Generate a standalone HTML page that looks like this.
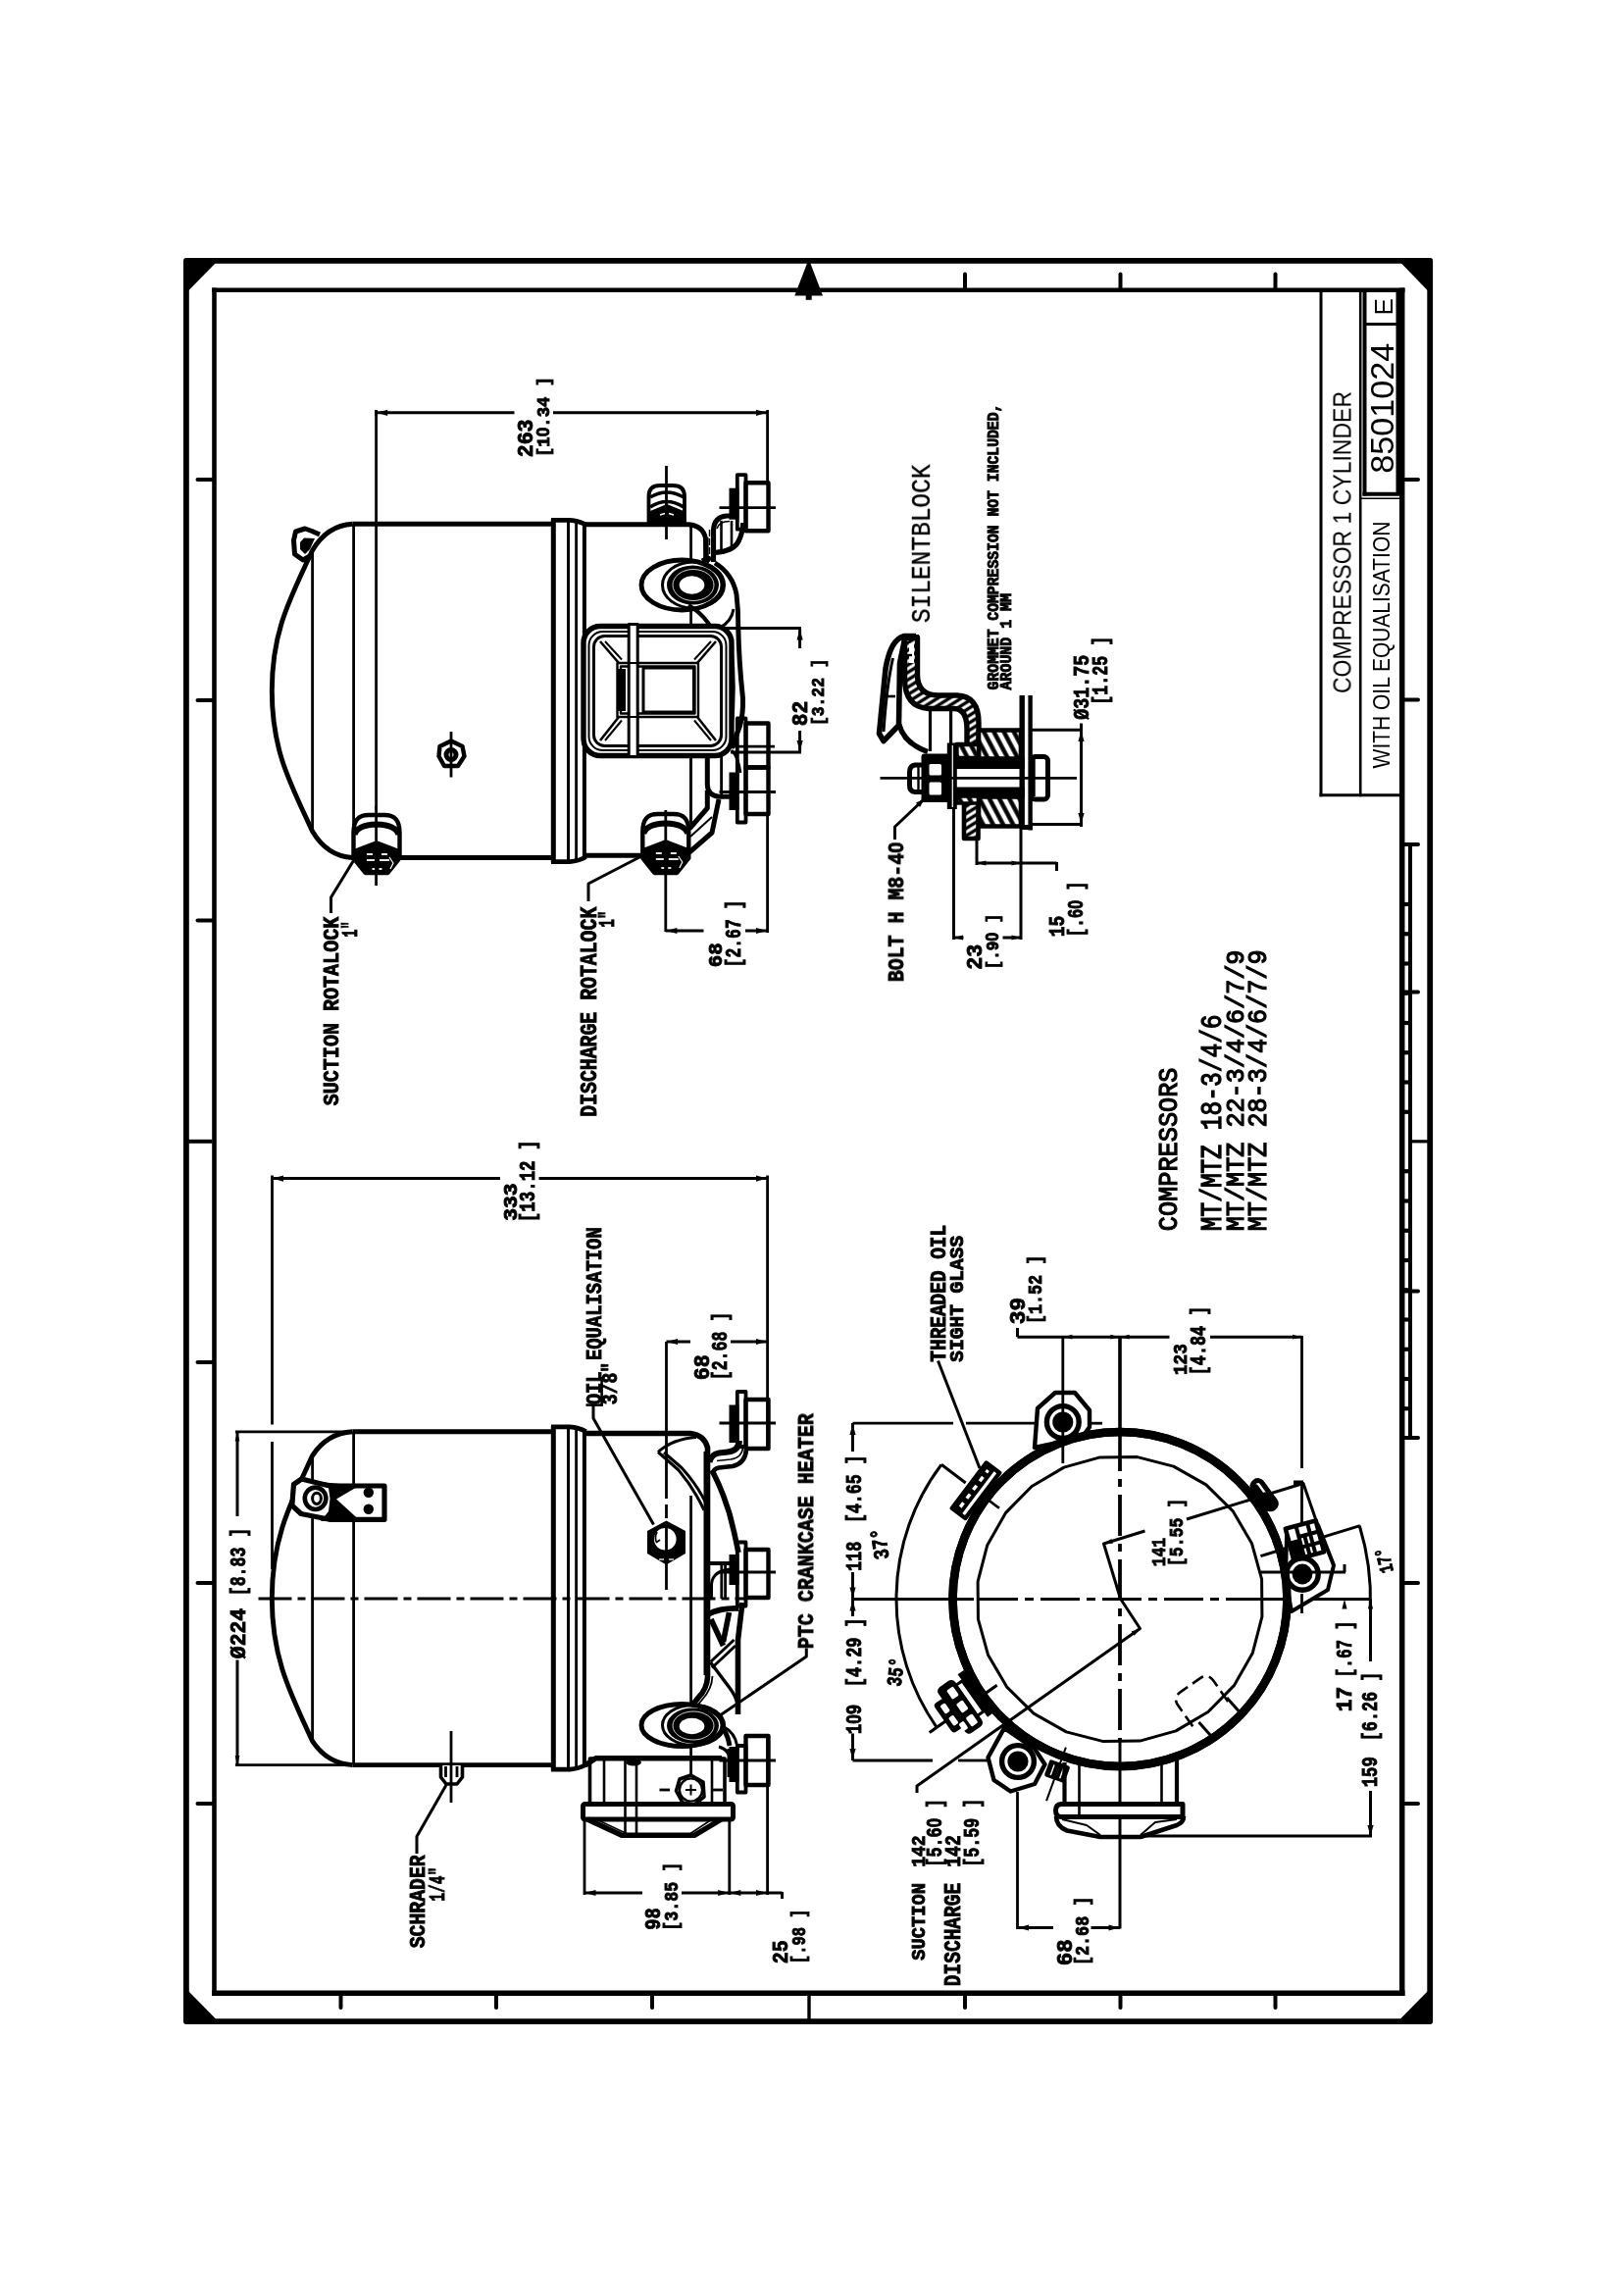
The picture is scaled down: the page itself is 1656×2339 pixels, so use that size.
<!DOCTYPE html>
<html lang="en"><head><meta charset="utf-8"><title>8501024 E - Compressor 1 cylinder with oil equalisation</title>
<style>
html,body{margin:0;padding:0;background:#fff}
body{width:1656px;height:2339px;overflow:hidden}
svg{display:block;position:absolute;left:0;top:0}
#texts{opacity:0.999}
svg text{stroke:#000;stroke-width:0.9px;stroke-linejoin:miter;fill:#000;font-family:"Liberation Mono","DejaVu Sans Mono",monospace;font-weight:bold;white-space:pre}
svg text .z{font-family:"Liberation Sans",Arial,sans-serif}
svg text.l{font-weight:normal;stroke-width:0.35px}
svg text.m{font-weight:normal;stroke-width:1.25px}
svg text.s{stroke:none;font-family:"Liberation Sans",Arial,sans-serif;font-weight:normal}
svg .f{fill:#000;stroke:none}
svg .w{fill:#fff}
</style></head><body>
<svg width="1656" height="2339" viewBox="0 0 1656 2339" fill="none" stroke="#000" stroke-linejoin="round" stroke-linecap="butt">
<g id="frame">
<rect x="189.90" y="265.90" width="1268.30" height="1795.20" stroke-width="5.8" />
<line x1="218.50" y1="293.50" x2="218.50" y2="2035.00" stroke-width="4.6" />
<line x1="216.20" y1="295.80" x2="1432.50" y2="295.80" stroke-width="4.6" />
<line x1="1429.70" y1="293.50" x2="1429.70" y2="2035.00" stroke-width="5.5" />
<line x1="216.20" y1="2032.20" x2="1432.50" y2="2032.20" stroke-width="5.6" />
<polygon points="192.00,268.00 220.00,268.00 192.00,296.50" fill="#000" stroke="none" />
<polygon points="1428.50,268.00 1456.00,268.00 1456.00,296.50" fill="#000" stroke="none" />
<polygon points="192.00,2030.00 192.00,2059.00 220.50,2059.00" fill="#000" stroke="none" />
<polygon points="1456.00,2030.00 1456.00,2059.00 1427.50,2059.00" fill="#000" stroke="none" />
<line x1="201.50" y1="489.00" x2="216.50" y2="489.00" stroke-width="4" stroke-linecap="round"/>
<line x1="201.50" y1="714.00" x2="216.50" y2="714.00" stroke-width="4" stroke-linecap="round"/>
<line x1="201.50" y1="938.50" x2="216.50" y2="938.50" stroke-width="4" stroke-linecap="round"/>
<line x1="201.50" y1="1389.00" x2="216.50" y2="1389.00" stroke-width="4" stroke-linecap="round"/>
<line x1="201.50" y1="1614.00" x2="216.50" y2="1614.00" stroke-width="4" stroke-linecap="round"/>
<line x1="201.50" y1="1839.00" x2="216.50" y2="1839.00" stroke-width="4" stroke-linecap="round"/>
<line x1="192.00" y1="1163.80" x2="216.50" y2="1163.80" stroke-width="4" />
<line x1="1432.00" y1="489.00" x2="1446.00" y2="489.00" stroke-width="4" stroke-linecap="round"/>
<line x1="1432.00" y1="713.50" x2="1446.00" y2="713.50" stroke-width="4" stroke-linecap="round"/>
<line x1="1432.00" y1="1614.00" x2="1446.00" y2="1614.00" stroke-width="4" stroke-linecap="round"/>
<line x1="1432.00" y1="1839.00" x2="1446.00" y2="1839.00" stroke-width="4" stroke-linecap="round"/>
<line x1="984.00" y1="279.50" x2="984.00" y2="294.00" stroke-width="4" stroke-linecap="round"/>
<line x1="1142.50" y1="279.50" x2="1142.50" y2="294.00" stroke-width="4" stroke-linecap="round"/>
<line x1="1300.50" y1="279.50" x2="1300.50" y2="294.00" stroke-width="4" stroke-linecap="round"/>
<line x1="347.50" y1="2034.00" x2="347.50" y2="2047.00" stroke-width="4" stroke-linecap="round"/>
<line x1="506.00" y1="2034.00" x2="506.00" y2="2047.00" stroke-width="4" stroke-linecap="round"/>
<line x1="665.00" y1="2034.00" x2="665.00" y2="2047.00" stroke-width="4" stroke-linecap="round"/>
<line x1="984.00" y1="2034.00" x2="984.00" y2="2047.00" stroke-width="4" stroke-linecap="round"/>
<line x1="1142.50" y1="2034.00" x2="1142.50" y2="2047.00" stroke-width="4" stroke-linecap="round"/>
<line x1="1300.50" y1="2034.00" x2="1300.50" y2="2047.00" stroke-width="4" stroke-linecap="round"/>
<line x1="825.00" y1="2034.00" x2="825.00" y2="2059.00" stroke-width="3.4" />
<polygon points="824.70,264.00 810.30,301.50 839.00,301.50" fill="#000" stroke="none" />
<line x1="824.70" y1="300.00" x2="824.70" y2="305.80" stroke-width="6" />
<line x1="1438.00" y1="861.00" x2="1438.00" y2="1466.00" stroke-width="4" />
<line x1="1432.00" y1="861.00" x2="1446.00" y2="861.00" stroke-width="4" stroke-linecap="round"/>
<line x1="1432.00" y1="1011.50" x2="1446.00" y2="1011.50" stroke-width="4" stroke-linecap="round"/>
<line x1="1432.00" y1="1316.50" x2="1446.00" y2="1316.50" stroke-width="4" stroke-linecap="round"/>
<line x1="1432.00" y1="1466.00" x2="1446.00" y2="1466.00" stroke-width="4" stroke-linecap="round"/>
<line x1="1438.00" y1="1163.80" x2="1456.00" y2="1163.80" stroke-width="3.2" />
<line x1="1431.00" y1="922.00" x2="1438.00" y2="922.00" stroke-width="4.2" />
<line x1="1431.00" y1="952.25" x2="1438.00" y2="952.25" stroke-width="4.2" />
<line x1="1431.00" y1="982.50" x2="1438.00" y2="982.50" stroke-width="4.2" />
<line x1="1431.00" y1="1012.75" x2="1438.00" y2="1012.75" stroke-width="4.2" />
<line x1="1431.00" y1="1043.00" x2="1438.00" y2="1043.00" stroke-width="4.2" />
<line x1="1431.00" y1="1073.25" x2="1438.00" y2="1073.25" stroke-width="4.2" />
<line x1="1431.00" y1="1103.50" x2="1438.00" y2="1103.50" stroke-width="4.2" />
<line x1="1431.00" y1="1133.75" x2="1438.00" y2="1133.75" stroke-width="4.2" />
<line x1="1431.00" y1="1194.25" x2="1438.00" y2="1194.25" stroke-width="4.2" />
<line x1="1431.00" y1="1224.50" x2="1438.00" y2="1224.50" stroke-width="4.2" />
<line x1="1431.00" y1="1254.75" x2="1438.00" y2="1254.75" stroke-width="4.2" />
<line x1="1431.00" y1="1285.00" x2="1438.00" y2="1285.00" stroke-width="4.2" />
<line x1="1431.00" y1="1315.25" x2="1438.00" y2="1315.25" stroke-width="4.2" />
<line x1="1431.00" y1="1345.50" x2="1438.00" y2="1345.50" stroke-width="4.2" />
<line x1="1431.00" y1="1375.75" x2="1438.00" y2="1375.75" stroke-width="4.2" />
<line x1="1431.00" y1="1406.00" x2="1438.00" y2="1406.00" stroke-width="4.2" />
<line x1="1431.00" y1="1436.25" x2="1438.00" y2="1436.25" stroke-width="4.2" />
<line x1="1347.00" y1="297.00" x2="1347.00" y2="812.20" stroke-width="3" />
<line x1="1387.20" y1="297.00" x2="1387.20" y2="812.20" stroke-width="2.6" />
<line x1="1345.50" y1="810.80" x2="1428.00" y2="810.80" stroke-width="3" />
<line x1="1391.50" y1="297.00" x2="1391.50" y2="505.50" stroke-width="4" />
<line x1="1389.50" y1="503.80" x2="1428.00" y2="503.80" stroke-width="4" />
<line x1="1387.00" y1="508.30" x2="1428.00" y2="508.30" stroke-width="1.6" />
<line x1="1391.00" y1="330.50" x2="1428.00" y2="330.50" stroke-width="3" />
<line x1="1425.40" y1="297.00" x2="1425.40" y2="505.00" stroke-width="3.8" />
</g>
<g id="viewA">
<path d="M359.5,534.2 Q333.5,535.7 318.5,561.2 C296.5,609.2 277.3,642.35 277.3,704.35 C277.3,766.35 296.5,799.5 318.5,847.5 Q333.5,873.0 359.5,874.5" stroke-width="4.9" />
<line x1="359.50" y1="534.20" x2="562.50" y2="534.20" stroke-width="4.9" />
<line x1="408.00" y1="874.50" x2="562.50" y2="874.50" stroke-width="4.9" />
<line x1="318.60" y1="561.20" x2="318.60" y2="847.50" stroke-width="2.8" />
<line x1="360.60" y1="534.20" x2="360.60" y2="874.50" stroke-width="2.8" />
<line x1="564.30" y1="529.50" x2="564.30" y2="879.50" stroke-width="5" />
<path d="M562,530.4 L581,530.4 Q590,531.1 597.6,535.1" stroke-width="4.6" />
<path d="M562,878.6 L581,878.6 Q590,877.9 597.6,873.7" stroke-width="4.6" />
<line x1="579.50" y1="530.50" x2="579.50" y2="878.50" stroke-width="3" />
<line x1="587.60" y1="531.50" x2="587.60" y2="877.50" stroke-width="2.8" />
<line x1="595.90" y1="534.00" x2="595.90" y2="875.00" stroke-width="4" />
<path d="M597,534.7 L702,534.7 Q717,536 719.5,549 L720,573" stroke-width="4.9" />
<line x1="597.00" y1="872.20" x2="655.00" y2="872.20" stroke-width="4.9" />
<line x1="704.60" y1="535.00" x2="704.60" y2="639.00" stroke-width="2.8" />
<line x1="704.60" y1="770.00" x2="704.60" y2="842.00" stroke-width="2.8" />
<path d="M326,545 L318,541.5 L311,539 L301.5,542 L299.5,551 L300.5,565 L309,571 L316,567" stroke-width="5" />
<path class="f" d="M306,553 L310,548.5 L321,549 L316,560 L311,565 L306,560 Z"/>
<polygon class="w" points="460,755.5 471.5,761 473.5,771 467,781 453,781 447.5,771 448.5,761" stroke-width="4.4"/>
<circle cx="460.00" cy="769.50" r="5.00" stroke-width="5" />
<line x1="460.00" y1="746.00" x2="460.00" y2="792.50" stroke-width="2.8" />
<line x1="383.60" y1="418.00" x2="383.60" y2="826.00" stroke-width="2.8" />
<path class="w" d="M360.5,875 L360.5,849 C360.5,833 368.5,831 376,831 L392,831 C399.5,831 407.5,833 407.5,849 L407.5,875 L395.5,890 L372.5,890 Z" stroke-width="4.4"/>
<path d="M361.5,851 Q364.5,841 384,840.5 Q403.5,841 406.5,851" stroke-width="6" />
<path class="f" d="M360.5,866 L384,857 L407.5,866 L407.5,875 L395.5,890 L372.5,890 L360.5,875 Z"/>
<path d="M362.5,854 L362.5,861 L384,852.5 L405.5,861 L405.5,854" stroke-width="1.4" stroke="#fff" style="display:none"/>
<line x1="374.00" y1="871.00" x2="380.00" y2="871.00" stroke-width="1.8" stroke="#fff"/>
<line x1="389.00" y1="871.00" x2="395.00" y2="871.00" stroke-width="1.8" stroke="#fff"/>
<line x1="374.00" y1="877.00" x2="382.00" y2="877.00" stroke-width="1.8" stroke="#fff"/>
<line x1="387.00" y1="877.00" x2="397.00" y2="877.00" stroke-width="1.8" stroke="#fff"/>
<line x1="379.50" y1="886.00" x2="382.50" y2="886.00" stroke-width="1.8" stroke="#fff"/>
<line x1="386.50" y1="886.00" x2="389.50" y2="886.00" stroke-width="1.8" stroke="#fff"/>
<path d="M397,874 L401,880 L398,886" stroke-width="1.2" stroke="#fff"/>
<line x1="383.60" y1="822.00" x2="383.60" y2="903.00" stroke-width="2.8" />
<path class="w" d="M655.3,875 L655.3,848 C655.3,832 663.3,830 670.8,830 L686.8,830 C694.3,830 702.3,832 702.3,848 L702.3,875 L690.3,890 L667.3,890 Z" stroke-width="4.4"/>
<path d="M656.3,850 Q659.3,840 678.8,839.5 Q698.3,840 701.3,850" stroke-width="6" />
<path class="f" d="M655.3,865 L678.8,856 L702.3,865 L702.3,875 L690.3,890 L667.3,890 L655.3,875 Z"/>
<path d="M657.3,853 L657.3,860 L678.8,851.5 L700.3,860 L700.3,853" stroke-width="1.4" stroke="#fff" style="display:none"/>
<line x1="668.80" y1="870.00" x2="674.80" y2="870.00" stroke-width="1.8" stroke="#fff"/>
<line x1="683.80" y1="870.00" x2="689.80" y2="870.00" stroke-width="1.8" stroke="#fff"/>
<line x1="668.80" y1="876.00" x2="676.80" y2="876.00" stroke-width="1.8" stroke="#fff"/>
<line x1="681.80" y1="876.00" x2="691.80" y2="876.00" stroke-width="1.8" stroke="#fff"/>
<line x1="674.30" y1="885.00" x2="677.30" y2="885.00" stroke-width="1.8" stroke="#fff"/>
<line x1="681.30" y1="885.00" x2="684.30" y2="885.00" stroke-width="1.8" stroke="#fff"/>
<path d="M691.8,873 L695.8,879 L692.8,885" stroke-width="1.2" stroke="#fff"/>
<line x1="678.80" y1="826.00" x2="678.80" y2="950.00" stroke-width="2.8" />
<path class="w" d="M661.5,533 L661.5,506 Q661.5,495 673,495 L686,495 Q698,495 698,506 L698,533 Z" stroke-width="3.8"/>
<path d="M663,507 Q680,497 697,507" stroke-width="3.4" />
<path d="M663,517 Q680,506 697,517" stroke-width="3.4" />
<path class="f" d="M663,521 L680,514 L697,521 L697,532 L663,532 Z"/>
<line x1="673.00" y1="525.00" x2="678.00" y2="523.50" stroke-width="1.4" stroke="#fff"/>
<line x1="682.00" y1="523.50" x2="687.00" y2="525.00" stroke-width="1.4" stroke="#fff"/>
<line x1="679.50" y1="475.00" x2="679.50" y2="550.00" stroke-width="2.8" />
<rect x="760.50" y="492.20" width="23.00" height="49.00" stroke-width="4.4" />
<rect x="751.80" y="484.20" width="8.70" height="55.50" stroke-width="3.8" />
<rect class="f" x="743.5" y="497.70000000000005" width="10" height="32"/>
<line x1="733.50" y1="517.70" x2="791.00" y2="517.70" stroke-width="2.8" />
<path d="M727.5,573 L727.5,541 Q728,527 741,526 L746,526" stroke-width="5.2" />
<path d="M720,573 L720,548" stroke-width="5.2" />
<path d="M729,563.5 Q748,562 753,552 Q757.5,543 757.8,533" stroke-width="5.2" />
<path d="M731,539 Q733,531.5 744,531.5" stroke-width="1.6" />
<line x1="735.50" y1="531.00" x2="735.50" y2="562.00" stroke-width="2.6" />
<line x1="746.00" y1="531.00" x2="746.00" y2="559.00" stroke-width="2.6" />
<line x1="723.50" y1="540.00" x2="723.50" y2="572.00" stroke-width="1.4" stroke-dasharray="7 2"/>
<ellipse cx="695.50" cy="596.50" rx="41.50" ry="25.50" stroke-width="4.9" class="w"/>
<ellipse cx="707.00" cy="596.50" rx="31.50" ry="23.50" stroke-width="3" />
<ellipse cx="706.50" cy="596.50" rx="26.50" ry="20.00" stroke-width="0" class="f"/>
<ellipse cx="705.50" cy="596.50" rx="12.80" ry="9.20" stroke-width="0" style="fill:#fff;stroke:none"/>
<ellipse cx="707.00" cy="596.50" rx="21.00" ry="16.00" stroke-width="0.8" stroke="#fff"/>
<path d="M716,572 Q727,566 720,573" stroke-width="4.9" />
<path d="M729,574 Q747,585 751,606 Q753,622 752.8,640" stroke-width="4.9" />
<path d="M748,621 Q746,634 734,640" stroke-width="3.0" />
<path d="M702,617 L708,621 Q718,628 726,641" stroke-width="4" />
<rect class="w" x="595" y="638.5" width="151" height="132" rx="17" ry="17" stroke-width="5.4"/>
<rect x="600.5" y="644" width="140" height="121" rx="14" ry="14" stroke-width="2"/>
<rect x="605.5" y="648.5" width="130" height="112" rx="11" ry="11" stroke-width="3"/>
<rect x="629.50" y="676.00" width="82.50" height="55.00" stroke-width="2.4" />
<rect x="633.00" y="679.50" width="75.50" height="48.00" stroke-width="2.4" />
<rect x="656.00" y="681.00" width="51.50" height="45.00" stroke-width="3" />
<line x1="612.00" y1="654.00" x2="631.00" y2="676.00" stroke-width="2.6" />
<line x1="617.00" y1="654.00" x2="634.00" y2="672.50" stroke-width="2" />
<line x1="730.00" y1="654.00" x2="711.00" y2="676.00" stroke-width="2.6" />
<line x1="725.00" y1="654.00" x2="708.00" y2="672.50" stroke-width="2" />
<line x1="612.00" y1="755.00" x2="631.00" y2="731.00" stroke-width="2.6" />
<line x1="617.00" y1="755.00" x2="634.00" y2="734.50" stroke-width="2" />
<line x1="730.00" y1="755.00" x2="711.00" y2="731.00" stroke-width="2.6" />
<line x1="725.00" y1="755.00" x2="708.00" y2="734.50" stroke-width="2" />
<rect class="f" x="629" y="682" width="9" height="43"/>
<rect class="w" x="641.2" y="636.5" width="9" height="135" stroke-width="3"/>
<line x1="641.00" y1="676.00" x2="650.00" y2="676.00" stroke-width="2" />
<line x1="641.00" y1="731.00" x2="650.00" y2="731.00" stroke-width="2" />
<path d="M752.8,640 Q753.5,675 757.5,712 Q758,728 754.5,740 Q750,752 746,763" stroke-width="5" />
<path d="M746,660 Q750.5,700 746,745" stroke-width="3.0" />
<line x1="735.00" y1="640.60" x2="817.00" y2="640.60" stroke-width="3.0" />
<line x1="745.00" y1="767.00" x2="817.00" y2="767.00" stroke-width="3.0" />
<line x1="815.60" y1="640.60" x2="815.60" y2="661.00" stroke-width="3.0" />
<line x1="815.60" y1="745.00" x2="815.60" y2="767.00" stroke-width="3.0" />
<polygon points="815.60,641.50 818.70,652.50 812.50,652.50" fill="#000" stroke="none" />
<polygon points="815.60,766.00 812.50,755.00 818.70,755.00" fill="#000" stroke="none" />
<rect x="760.50" y="782.50" width="23.00" height="47.50" stroke-width="4.4" />
<rect x="751.80" y="732.50" width="8.70" height="106.00" stroke-width="3.8" />
<rect class="f" x="743.5" y="787.5" width="10" height="38.5"/>
<line x1="733.50" y1="807.50" x2="791.00" y2="807.50" stroke-width="2.8" />
<rect x="760.50" y="737.50" width="23.00" height="45.00" stroke-width="4.4" />
<line x1="745.00" y1="761.20" x2="790.00" y2="761.20" stroke-width="2.8" />
<line x1="704.60" y1="770.00" x2="704.60" y2="838.00" stroke-width="2.8" />
<path d="M721.3,770 L721.3,800 Q721.5,811 733,812.3 L744,812.3" stroke-width="5" />
<line x1="735.60" y1="770.00" x2="735.60" y2="812.00" stroke-width="2.8" />
<path d="M746,765 Q753,772 755,788" stroke-width="2.8" />
<path d="M721.3,806 L721.3,824 L703,845" stroke-width="5" />
<path d="M733,815 L726,849 L703,869" stroke-width="5" />
<line x1="726.00" y1="833.00" x2="704.00" y2="853.00" stroke-width="2" />
<path d="M362.00,875.00 L337.50,915.00 L337.50,931.00" stroke-width="3.0" />
<path d="M655.00,872.50 L600.00,901.00 L600.00,919.00" stroke-width="3.0" />
<line x1="383.60" y1="418.00" x2="383.60" y2="424.00" stroke-width="2.8" />
<line x1="782.60" y1="418.00" x2="782.60" y2="491.50" stroke-width="2.8" />
<line x1="383.60" y1="420.80" x2="524.50" y2="420.80" stroke-width="3.0" />
<line x1="564.00" y1="420.80" x2="782.60" y2="420.80" stroke-width="3.0" />
<polygon points="384.20,420.80 395.20,417.70 395.20,423.90" fill="#000" stroke="none" />
<polygon points="782.00,420.80 771.00,423.90 771.00,417.70" fill="#000" stroke="none" />
<line x1="782.60" y1="831.00" x2="782.60" y2="951.00" stroke-width="2.8" />
<line x1="678.80" y1="949.00" x2="717.50" y2="949.00" stroke-width="3.0" />
<line x1="760.00" y1="949.00" x2="782.60" y2="949.00" stroke-width="3.0" />
<polygon points="679.40,949.00 690.40,945.90 690.40,952.10" fill="#000" stroke="none" />
<polygon points="782.00,949.00 771.00,952.10 771.00,945.90" fill="#000" stroke="none" />
</g>
<g id="viewB">
<path d="M359.5,1459.8 Q333.5,1461.3 318.5,1484.3 C296.5,1532.3 277.3,1567.6999999999998 277.3,1629.6999999999998 C277.3,1691.6999999999998 296.5,1727.1 318.5,1775.1 Q333.5,1798.1 359.5,1799.6" stroke-width="4.9" />
<line x1="359.50" y1="1459.80" x2="562.50" y2="1459.80" stroke-width="4.9" />
<line x1="359.50" y1="1799.60" x2="562.50" y2="1799.60" stroke-width="4.9" />
<line x1="318.60" y1="1484.30" x2="318.60" y2="1775.10" stroke-width="2.8" />
<line x1="360.60" y1="1459.80" x2="360.60" y2="1799.60" stroke-width="2.8" />
<line x1="564.30" y1="1454.00" x2="564.30" y2="1805.00" stroke-width="5" />
<path d="M562,1454.9 L581,1454.9 Q590,1455.6 597.6,1459.6" stroke-width="4.6" />
<path d="M562,1804.1 L581,1804.1 Q590,1803.4 597.6,1799.2" stroke-width="4.6" />
<line x1="579.50" y1="1455.00" x2="579.50" y2="1804.00" stroke-width="3" />
<line x1="587.60" y1="1456.00" x2="587.60" y2="1803.00" stroke-width="2.8" />
<line x1="595.90" y1="1458.50" x2="595.90" y2="1800.50" stroke-width="4" />
<line x1="263.50" y1="1630.00" x2="760.00" y2="1630.00" stroke-width="3.0" stroke-dasharray="34 6 8 6"/>
<path d="M597,1461.5 L704,1461.5 Q718,1463 721.5,1476 L721.5,1710 Q721,1722 712,1731 L706.5,1738" stroke-width="5.6" />
<line x1="718.30" y1="1480.00" x2="718.30" y2="1708.00" stroke-width="1.6" />
<line x1="704.60" y1="1525.00" x2="704.60" y2="1738.00" stroke-width="2.8" />
<line x1="704.60" y1="1776.00" x2="704.60" y2="1811.00" stroke-width="2.8" />
<path d="M671,1480.5 Q686,1467 710,1465.5" stroke-width="3.0" />
<path d="M671,1480.5 L692,1499 Q708,1518 718,1540" stroke-width="3.0" />
<path d="M677,1481 L695,1496.5 Q711,1514 720,1533" stroke-width="3.0" />
<path class="w" d="M392,1515 L336,1515 L307.5,1508 L299.5,1513.5 L297.8,1535 L307,1543.5 L336,1549.3 L392,1549.3 Z" stroke-width="5.2"/>
<path class="f" d="M327,1511 L366,1515 L343,1528.5 L366,1549.5 L327,1551 L335,1541 L336.5,1528 L335,1517 Z"/>
<ellipse cx="321.60" cy="1527.80" rx="10.80" ry="11.20" stroke-width="4.6" class="w"/>
<ellipse cx="323.00" cy="1527.80" rx="4.40" ry="5.60" stroke-width="3" />
<circle cx="375.80" cy="1521.80" r="5.20" stroke-width="0" class="f"/>
<circle cx="375.80" cy="1538.80" r="5.20" stroke-width="0" class="f"/>
<path class="w" d="M449.5,1800 L449.5,1812 L455,1819 L466,1819 L471.5,1812 L471.5,1800" stroke-width="3.6"/>
<line x1="454.50" y1="1801.00" x2="454.50" y2="1812.00" stroke-width="2.8" />
<line x1="466.00" y1="1801.00" x2="466.00" y2="1812.00" stroke-width="2.8" />
<line x1="460.00" y1="1765.00" x2="460.00" y2="1838.00" stroke-width="2.8" />
<path d="M455.00,1820.00 L425.00,1872.50 L425.00,1890.00" stroke-width="3.0" />
<line x1="679.50" y1="1368.00" x2="679.50" y2="1528.00" stroke-width="2.8" />
<line x1="679.50" y1="1534.00" x2="679.50" y2="1548.00" stroke-width="2.8" />
<polygon class="f" points="679.4,1550.5 699,1561 699,1584 679.4,1595.5 660,1584 660,1561"/>
<circle cx="678.30" cy="1569.30" r="11.30" stroke-width="0" fill="#fff" stroke="none"/>
<path d="M670,1562 Q667,1567 669.5,1572.5 L673,1570" stroke-width="1.8" />
<line x1="672.00" y1="1590.00" x2="677.00" y2="1590.00" stroke-width="1.3" stroke="#fff"/>
<line x1="682.00" y1="1590.00" x2="687.00" y2="1590.00" stroke-width="1.3" stroke="#fff"/>
<line x1="679.50" y1="1552.00" x2="679.50" y2="1621.00" stroke-width="2.8" />
<path d="M605.00,1432.00 L605.00,1446.00 L666.50,1554.50" stroke-width="3.0" />
<line x1="613.60" y1="1404.00" x2="613.60" y2="1433.50" stroke-width="2.6" />
<line x1="597.50" y1="1432.60" x2="614.80" y2="1432.60" stroke-width="2.6" />
<rect x="760.50" y="1427.00" width="23.00" height="50.00" stroke-width="4.4" />
<rect x="751.80" y="1419.00" width="8.70" height="56.00" stroke-width="3.8" />
<rect class="f" x="743.5" y="1432.5" width="10" height="38.5"/>
<line x1="733.50" y1="1451.00" x2="791.00" y2="1451.00" stroke-width="2.8" />
<path d="M754,1469 Q753.5,1479 742,1480.5 L733,1481.5 Q725,1483 723.5,1491" stroke-width="6" />
<path d="M761,1478 Q760,1492 747,1495 L733,1496.5 Q727.5,1497.5 726.5,1503" stroke-width="4.6" />
<path d="M757.5,1476 Q756.5,1486.5 745,1488 L731,1489.5" stroke-width="1.6" />
<path d="M726,1499 Q742,1530 748.5,1562 L753,1583" stroke-width="5.6" />
<rect x="760.50" y="1580.00" width="23.00" height="49.00" stroke-width="4.4" />
<rect x="751.80" y="1572.50" width="8.70" height="65.00" stroke-width="3.8" />
<rect class="f" x="743.5" y="1585" width="10" height="31"/>
<line x1="733.50" y1="1603.00" x2="791.00" y2="1603.00" stroke-width="2.8" />
<line x1="722.00" y1="1594.00" x2="746.00" y2="1594.00" stroke-width="4" />
<path d="M746,1600 Q727,1601 725.5,1615 L725.5,1630" stroke-width="3.0" />
<line x1="735.80" y1="1594.00" x2="735.80" y2="1630.00" stroke-width="2.8" />
<line x1="739.60" y1="1594.00" x2="739.60" y2="1630.00" stroke-width="2.8" />
<path d="M722,1646 Q734,1639.5 753,1640" stroke-width="5.8" />
<path d="M757,1634 L752.5,1672 L752.5,1748" stroke-width="5.6" />
<line x1="743.50" y1="1644.00" x2="737.50" y2="1674.00" stroke-width="5.6" />
<line x1="725.00" y1="1651.00" x2="737.50" y2="1678.00" stroke-width="5.6" />
<line x1="748.50" y1="1672.00" x2="724.50" y2="1694.50" stroke-width="3" />
<line x1="750.00" y1="1678.00" x2="726.00" y2="1700.50" stroke-width="3" />
<path d="M724.5,1695 L744,1721 Q750,1729 752,1737" stroke-width="3.4" />
<path d="M726.5,1709 Q726,1722 716,1733 L711,1739" stroke-width="1.8" />
<rect x="760.50" y="1770.00" width="23.00" height="50.00" stroke-width="4.4" />
<rect x="751.80" y="1780.00" width="8.70" height="47.50" stroke-width="3.8" />
<rect class="f" x="743.5" y="1781" width="10" height="36"/>
<line x1="733.50" y1="1795.00" x2="791.00" y2="1795.00" stroke-width="2.8" />
<path d="M744,1780 Q741,1762 730,1757 M744,1783 L744,1812" stroke-width="4.9" />
<path d="M733,1781 Q744,1784 745,1796" stroke-width="3.0" />
<path d="M822.30,1680.50 L822.30,1689.00 L735.00,1748.50" stroke-width="3.0" />
<ellipse cx="695.50" cy="1759.00" rx="41.50" ry="21.50" stroke-width="4.9" class="w"/>
<ellipse cx="707.00" cy="1759.00" rx="31.50" ry="20.50" stroke-width="3" />
<ellipse cx="706.50" cy="1759.50" rx="26.50" ry="18.00" stroke-width="0" class="f"/>
<ellipse cx="705.50" cy="1760.00" rx="12.80" ry="8.20" stroke-width="0" style="fill:#fff;stroke:none"/>
<ellipse cx="707.00" cy="1759.50" rx="21.00" ry="14.50" stroke-width="0.8" stroke="#fff"/>
<path d="M737,1760 Q752,1768 752,1785" stroke-width="3.0" />
<path d="M596.5,1800 L607.5,1792.8 L736,1792.8" stroke-width="5.5" />
<rect x="601.5" y="1793" width="137.5" height="46" stroke-width="3.6"/>
<rect class="w" x="594.5" y="1839.5" width="153" height="15.5" rx="2" stroke-width="5"/>
<path d="M599,1855 L634,1871.3 L708,1871.3 L735.5,1855" stroke-width="5.5" />
<line x1="616.00" y1="1794.00" x2="616.00" y2="1839.00" stroke-width="2.6" />
<line x1="637.50" y1="1794.00" x2="637.50" y2="1839.00" stroke-width="2.6" />
<line x1="649.00" y1="1794.00" x2="649.00" y2="1839.00" stroke-width="2.6" />
<line x1="726.00" y1="1794.00" x2="726.00" y2="1839.00" stroke-width="2.6" />
<line x1="637.50" y1="1840.00" x2="637.50" y2="1871.00" stroke-width="2.6" />
<line x1="649.00" y1="1840.00" x2="649.00" y2="1871.00" stroke-width="2.6" />
<line x1="608.00" y1="1855.00" x2="640.00" y2="1870.00" stroke-width="1.6" />
<line x1="726.00" y1="1855.00" x2="704.00" y2="1869.50" stroke-width="1.6" />
<ellipse class="f" cx="646" cy="1797" rx="8" ry="3.5"/>
<polygon class="w" points="704.5,1810 717,1817 718,1832 708,1840 696,1838 689.5,1826 693,1814" stroke-width="3.6"/>
<circle cx="704.50" cy="1825.00" r="11.60" stroke-width="2.4" />
<line x1="699.00" y1="1825.00" x2="710.00" y2="1825.00" stroke-width="2" />
<line x1="704.50" y1="1819.50" x2="704.50" y2="1830.50" stroke-width="2" />
<line x1="672.50" y1="1825.00" x2="683.00" y2="1825.00" stroke-width="2.8" />
<line x1="726.00" y1="1825.00" x2="737.00" y2="1825.00" stroke-width="2.8" />
<line x1="240.00" y1="1459.80" x2="358.00" y2="1459.80" stroke-width="2.8" />
<line x1="240.00" y1="1799.60" x2="358.00" y2="1799.60" stroke-width="2.8" />
<line x1="242.00" y1="1459.80" x2="242.00" y2="1546.00" stroke-width="3.0" />
<line x1="242.00" y1="1692.50" x2="242.00" y2="1799.60" stroke-width="3.0" />
<polygon points="242.00,1460.40 244.40,1469.40 239.60,1469.40" fill="#000" stroke="none" />
<polygon points="242.00,1799.00 239.60,1790.00 244.40,1790.00" fill="#000" stroke="none" />
<line x1="277.50" y1="1198.50" x2="277.50" y2="1452.50" stroke-width="2.8" />
<line x1="277.50" y1="1470.00" x2="277.50" y2="1600.00" stroke-width="2.8" />
<line x1="782.60" y1="1198.50" x2="782.60" y2="1479.00" stroke-width="2.8" />
<line x1="277.50" y1="1201.60" x2="510.00" y2="1201.60" stroke-width="3.0" />
<line x1="549.50" y1="1201.60" x2="782.60" y2="1201.60" stroke-width="3.0" />
<polygon points="278.00,1201.60 289.00,1198.50 289.00,1204.70" fill="#000" stroke="none" />
<polygon points="782.00,1201.60 771.00,1204.70 771.00,1198.50" fill="#000" stroke="none" />
<line x1="679.50" y1="1368.00" x2="704.00" y2="1368.00" stroke-width="3.0" />
<line x1="745.00" y1="1368.00" x2="782.60" y2="1368.00" stroke-width="3.0" />
<polygon points="680.00,1368.00 691.00,1364.90 691.00,1371.10" fill="#000" stroke="none" />
<polygon points="782.00,1368.00 771.00,1371.10 771.00,1364.90" fill="#000" stroke="none" />
<line x1="596.00" y1="1855.00" x2="596.00" y2="1932.00" stroke-width="2.8" />
<line x1="743.80" y1="1855.00" x2="743.80" y2="1932.00" stroke-width="2.8" />
<line x1="782.60" y1="1770.00" x2="782.60" y2="1932.00" stroke-width="2.8" />
<line x1="596.00" y1="1930.00" x2="655.00" y2="1930.00" stroke-width="3.0" />
<line x1="695.00" y1="1930.00" x2="797.50" y2="1930.00" stroke-width="3.0" />
<line x1="797.50" y1="1929.00" x2="797.50" y2="1936.00" stroke-width="3.0" />
<polygon points="596.50,1930.00 607.50,1926.90 607.50,1933.10" fill="#000" stroke="none" />
<polygon points="743.20,1930.00 732.20,1933.10 732.20,1926.90" fill="#000" stroke="none" />
<polygon points="744.40,1930.00 755.40,1926.90 755.40,1933.10" fill="#000" stroke="none" />
<polygon points="782.00,1930.00 771.00,1933.10 771.00,1926.90" fill="#000" stroke="none" />
</g>
<g id="viewC">
<line x1="992.00" y1="1630.50" x2="1307.00" y2="1630.50" stroke-width="3.0" stroke-dasharray="40 7 9 7" stroke-dashoffset="-6"/>
<line x1="870.00" y1="1630.50" x2="993.00" y2="1630.50" stroke-width="2.8" />
<line x1="1286.00" y1="1630.50" x2="1398.00" y2="1630.50" stroke-width="2.8" />
<line x1="1142.00" y1="1362.00" x2="1142.00" y2="1488.00" stroke-width="3.6" />
<line x1="1142.00" y1="1488.00" x2="1142.00" y2="1776.00" stroke-width="3.8" stroke-dasharray="42 8 8 8" stroke-dashoffset="30"/>
<line x1="1142.00" y1="1776.00" x2="1142.00" y2="1966.50" stroke-width="3.0" />
<circle cx="1142.00" cy="1630.50" r="170.50" stroke-width="8.6" />
<path d="M1286.58,1610.18 L1276.39,1573.45 L1257.05,1540.61 L1229.86,1513.90 L1196.69,1495.13 L1159.79,1485.59 L1121.68,1485.92 L1084.95,1496.11 L1052.11,1515.45 L1025.40,1542.64 L1006.63,1575.81 L997.09,1612.71 L997.42,1650.82 L1007.61,1687.55 L1026.95,1720.39 L1054.14,1747.10 L1087.31,1765.87 L1124.21,1775.41 L1162.32,1775.08 L1199.05,1764.89 L1231.89,1745.55 L1258.60,1718.36 L1277.37,1685.19 L1286.91,1648.29 Z" stroke-width="3.0" />
<path d="M959.91,1493.29 A228,228 0 0 0 955.23,1761.28" stroke-width="3.0" />
<line x1="959.91" y1="1493.29" x2="984.67" y2="1511.94" stroke-width="3.0" />
<line x1="955.23" y1="1761.28" x2="1016.67" y2="1718.26" stroke-width="3.0" />
<line x1="955.23" y1="1761.28" x2="947.86" y2="1766.44" stroke-width="3.0" />
<polygon class="w" points="1055.0,1476.0 1058.0,1436.0 1076.0,1420.0 1096.0,1420.0 1111.0,1438.0 1111.0,1455.0 1103.0,1466.0" stroke-width="4.4"/>
<circle cx="1083.80" cy="1450.00" r="16.40" stroke-width="5.4" />
<circle cx="1083.80" cy="1450.00" r="10.60" stroke-width="0" class="f"/>
<polygon class="w" points="1024.0,1762.0 1007.5,1792.0 1013.5,1815.0 1030.5,1826.5 1055.0,1819.0 1065.5,1799.0 1055.0,1783.0" stroke-width="4.4"/>
<circle cx="1038.00" cy="1796.00" r="16.40" stroke-width="5.4" />
<circle cx="1038.00" cy="1796.00" r="10.60" stroke-width="0" class="f"/>
<polygon class="w" points="1312,1566 1344,1555 1360,1596 1354,1621 1317,1643 1311,1610" stroke-width="4"/>
<circle cx="1328.00" cy="1605.00" r="16.20" stroke-width="5.4" />
<circle cx="1328.00" cy="1605.00" r="10.40" stroke-width="0" class="f"/>
<circle cx="1142.00" cy="1630.50" r="170.50" stroke-width="8.6" />
<g transform="translate(1142,1630.5) rotate(-143)">
<rect class="w" x="175.5" y="-29" width="17" height="58" stroke-width="4.4"/>
<rect class="f" x="181" y="-29" width="11.5" height="58"/>
<line x1="186.5" y1="-23" x2="186.5" y2="24" stroke="#fff" stroke-width="3.4" stroke-dasharray="5.5 5.5"/>
<line x1="154" y1="0" x2="168" y2="0" stroke-width="2.6"/>
</g>
<path d="M956.50,1387.50 L999.00,1497.00" stroke-width="3.0" />
<g transform="translate(1142,1630.5) rotate(-215)">
<line x1="155" y1="0" x2="237" y2="0" stroke-width="2.2"/>
<rect class="f" x="172" y="-21" width="7.5" height="53"/>
<rect class="w" x="179.5" y="-14" width="8" height="38" stroke-width="3"/>
<rect class="f" x="186" y="-25" width="21" height="57" rx="5"/>
<rect class="f" x="205" y="-15" width="13" height="36" rx="4"/>
<rect x="190.5" y="-20" width="8" height="11" style="fill:#fff;stroke:none" rx="1.5"/>
<rect x="190.5" y="-3" width="8" height="11" style="fill:#fff;stroke:none" rx="1.5"/>
<rect x="190.5" y="14" width="8" height="11" style="fill:#fff;stroke:none" rx="1.5"/>
<rect x="202" y="-19" width="6" height="9" style="fill:#fff;stroke:none" rx="1.5"/>
<rect x="207" y="-9" width="6" height="10" style="fill:#fff;stroke:none" rx="1.5"/>
<rect x="207" y="6" width="6" height="10" style="fill:#fff;stroke:none" rx="1.5"/>
</g>
<g transform="translate(1142,1630.5) rotate(-36)">
<rect class="f" x="170" y="-14" width="12" height="30" rx="3"/>
<rect x="176" y="-16" width="11" height="33" rx="5" stroke-width="5"/>
<rect class="f" x="176" y="-2" width="9" height="17" rx="3"/>
</g>
<g transform="translate(1330.5,1570.5) rotate(-15)">
<rect class="w" x="-16" y="-16.5" width="32" height="33" stroke-width="4.6"/>
<path d="M-5,-16 L-5,16 M7,-16 L7,16 M-5,-5 L16,-5 M-5,6 L16,6 M1,-5 L1,16" stroke-width="4"/>
<rect class="f" x="-18" y="-3" width="13" height="22"/>
</g>
<line x1="1285.45" y1="1586.64" x2="1310.31" y2="1579.04" stroke-width="3.0" />
<line x1="1348.56" y1="1567.35" x2="1386.81" y2="1555.65" stroke-width="3.0" />
<path d="M1386.34,1555.80 A255.5,255.5 0 0 1 1397.34,1639.42" stroke-width="3.0" />
<path d="M1210.00,1549.00 L1329.00,1512.50 L1344.00,1556.00" stroke-width="3.0" />
<rect class="f" x="1319" y="1509.5" width="10" height="5"/>
<path d="M1167.50,1561.00 L1125.50,1574.00 L1142.50,1630.00 L1162.50,1660.50 L935.00,1821.00 L935.00,1828.00" stroke-width="3.0" />
<polygon points="1162.50,1660.50 1156.62,1667.79 1153.64,1663.53" fill="#000" stroke="none" />
<polygon points="1125.50,1574.00 1133.35,1568.88 1134.87,1573.86" fill="#000" stroke="none" />
<g transform="translate(1078,1806) rotate(20)">
<rect class="f" x="-11" y="-9" width="22" height="18" rx="2"/>
<line x1="-5" y1="-5" x2="-5" y2="6" stroke="#fff" stroke-width="1.4"/>
<line x1="0" y1="-5" x2="0" y2="6" stroke="#fff" stroke-width="1.4"/>
<line x1="5" y1="-5" x2="5" y2="6" stroke="#fff" stroke-width="1.4"/>
<line x1="0" y1="-26" x2="0" y2="32" stroke-width="2"/>
</g>
<path d="M1085.5,1797 L1085.5,1839 M1200,1793 L1200,1839" stroke-width="4.2" />
<line x1="1100.50" y1="1800.00" x2="1100.50" y2="1852.00" stroke-width="2.6" />
<line x1="1184.50" y1="1797.00" x2="1184.50" y2="1852.00" stroke-width="2.6" />
<path class="w" d="M1206,1839.5 L1082,1839.5 Q1076.5,1840 1076.5,1846 Q1076.5,1852.5 1082,1852.5 L1206,1852.5 Z" stroke-width="5"/>
<path d="M1077,1852 Q1077,1862 1088,1866.5 L1122,1873 L1163,1873 L1200,1861 Q1207,1858 1207,1852" stroke-width="4.6" />
<path d="M1083,1855 L1108,1861 L1122,1871 M1200,1855 L1178,1858 L1163,1871" stroke-width="2" />
<line x1="1100.50" y1="1839.00" x2="1100.50" y2="1852.00" stroke-width="2.6" />
<g transform="translate(1224,1733) rotate(-35)">
<path d="M-22,18 L-22,-8 Q-22,-18 -12,-18 L12,-18 Q22,-18 22,-8 L22,18" stroke-width="2.6" stroke-dasharray="13 6"/>
</g>
<path d="M1251.00,1731.00 L1263.00,1744.50" stroke-width="3.0" />
<path d="M1222.50,1756.00 L1234.50,1769.50" stroke-width="3.0" />
<line x1="869.50" y1="1451.00" x2="869.50" y2="1480.00" stroke-width="3.0" />
<line x1="869.50" y1="1603.00" x2="869.50" y2="1648.00" stroke-width="3.0" />
<line x1="869.50" y1="1767.50" x2="869.50" y2="1795.00" stroke-width="3.0" />
<line x1="869.50" y1="1451.20" x2="972.00" y2="1451.20" stroke-width="2.8" />
<line x1="985.00" y1="1451.20" x2="1058.00" y2="1451.20" stroke-width="2.8" />
<line x1="1112.00" y1="1451.20" x2="1124.00" y2="1451.20" stroke-width="2.8" />
<line x1="869.50" y1="1795.00" x2="951.00" y2="1795.00" stroke-width="2.8" />
<line x1="977.00" y1="1795.00" x2="1007.50" y2="1795.00" stroke-width="2.8" />
<polygon points="869.50,1452.00 872.60,1463.00 866.40,1463.00" fill="#000" stroke="none" />
<polygon points="869.50,1629.50 866.40,1618.50 872.60,1618.50" fill="#000" stroke="none" />
<polygon points="869.50,1631.50 872.60,1642.50 866.40,1642.50" fill="#000" stroke="none" />
<polygon points="869.50,1794.00 866.40,1783.00 872.60,1783.00" fill="#000" stroke="none" />
<line x1="1037.50" y1="1354.00" x2="1037.50" y2="1363.20" stroke-width="3.0" />
<line x1="1037.50" y1="1363.20" x2="1192.50" y2="1363.20" stroke-width="3.0" />
<line x1="1234.00" y1="1363.20" x2="1327.50" y2="1363.20" stroke-width="3.0" />
<line x1="1083.80" y1="1362.00" x2="1083.80" y2="1492.00" stroke-width="2.8" />
<line x1="1327.50" y1="1362.00" x2="1327.50" y2="1497.00" stroke-width="2.8" />
<line x1="1327.50" y1="1511.00" x2="1327.50" y2="1553.00" stroke-width="2.8" />
<line x1="1327.50" y1="1625.00" x2="1327.50" y2="1645.00" stroke-width="2.8" />
<polygon points="1084.40,1363.20 1093.40,1360.80 1093.40,1365.60" fill="#000" stroke="none" />
<polygon points="1141.40,1363.20 1132.40,1365.60 1132.40,1360.80" fill="#000" stroke="none" />
<polygon points="1142.60,1363.20 1151.60,1360.80 1151.60,1365.60" fill="#000" stroke="none" />
<polygon points="1327.00,1363.20 1318.00,1365.60 1318.00,1360.80" fill="#000" stroke="none" />
<line x1="1037.50" y1="1827.00" x2="1037.50" y2="1967.00" stroke-width="2.8" />
<line x1="1037.50" y1="1965.50" x2="1074.00" y2="1965.50" stroke-width="3.0" />
<line x1="1112.50" y1="1965.50" x2="1142.00" y2="1965.50" stroke-width="3.0" />
<polygon points="1038.00,1965.50 1049.00,1962.40 1049.00,1968.60" fill="#000" stroke="none" />
<polygon points="1141.50,1965.50 1130.50,1968.60 1130.50,1962.40" fill="#000" stroke="none" />
<line x1="1286.00" y1="1603.00" x2="1372.00" y2="1603.00" stroke-width="2.8" />
<line x1="1371.00" y1="1595.00" x2="1371.00" y2="1603.00" stroke-width="3.0" />
<polygon points="1371.00,1630.50 1373.60,1640.50 1368.40,1640.50" fill="#000" stroke="none" />
<polygon points="1397.50,1630.50 1400.10,1640.50 1394.90,1640.50" fill="#000" stroke="none" />
<line x1="1397.50" y1="1630.00" x2="1397.50" y2="1694.00" stroke-width="3.0" />
<line x1="1397.50" y1="1826.00" x2="1397.50" y2="1872.00" stroke-width="3.0" />
<polygon points="1397.50,1872.00 1394.40,1861.00 1400.60,1861.00" fill="#000" stroke="none" />
<line x1="1163.00" y1="1872.00" x2="1399.00" y2="1872.00" stroke-width="2.8" />
</g>
<g id="silent">
<defs><pattern id="h1" width="6.4" height="6.4" patternUnits="userSpaceOnUse" patternTransform="rotate(-32)"><rect width="6.4" height="6.4" style="fill:#fff;stroke:none"/><line x1="0" y1="3.2" x2="6.4" y2="3.2" stroke-width="3.4"/></pattern><pattern id="h2" width="9" height="9" patternUnits="userSpaceOnUse" patternTransform="rotate(62)"><rect width="9" height="9" style="fill:#fff;stroke:none"/><line x1="0" y1="4.5" x2="9" y2="4.5" stroke-width="4.4"/></pattern></defs>
<path d="M934,648.5 L922,648.5 Q908,652 903,682 L896.5,748 L901,755.5 L916.5,739.5 L917.5,676 L922.5,652" stroke-width="5.6" />
<path d="M910.5,671 Q904,700 901,746" stroke-width="3" />
<line x1="905.00" y1="710.00" x2="913.00" y2="710.00" stroke-width="2.6" />
<path d="M917,739 Q922,758 946,766.5" stroke-width="5.4" />
<line x1="948.50" y1="724.00" x2="948.50" y2="766.00" stroke-width="3.2" />
<line x1="969.60" y1="724.00" x2="969.60" y2="760.00" stroke-width="3.2" />
<path d="M935.5,650 L935.5,688 Q935.5,709 957,709 L976,709 Q998,710 998,737 L998,772 L986,772 L986,744 Q986,722.5 973,722.5 L947,722.5 Q922.5,721 922.5,692 L922.5,650 Z" style="fill:url(#h1)" stroke-width="5.4"/>
<rect class="f" x="921" y="647" width="16" height="6"/>
<rect x="927" y="656" width="5" height="20" style="fill:#fff;stroke:none"/>
<line x1="924.00" y1="668.00" x2="930.00" y2="668.00" stroke-width="2.4" />
<rect x="998" y="744.5" width="43" height="29" style="fill:url(#h2)" stroke-width="4.6"/>
<rect x="998" y="812.5" width="43" height="30" style="fill:url(#h2)" stroke-width="4.6"/>
<rect x="975.5" y="759" width="22.5" height="14" style="fill:url(#h2)" stroke-width="4.4"/>
<rect x="983" y="812" width="14.5" height="43" style="fill:url(#h1)" stroke-width="4.6"/>
<rect x="975.5" y="812" width="22" height="7" style="fill:url(#h2)" stroke-width="3.6"/>
<rect class="f" x="971" y="772.5" width="74" height="11.5"/>
<rect class="f" x="971" y="802.5" width="74" height="10.5"/>
<line x1="1042.20" y1="709.00" x2="1042.20" y2="846.00" stroke-width="5.4" />
<line x1="1050.60" y1="709.00" x2="1050.60" y2="846.50" stroke-width="4.4" />
<line x1="1040.00" y1="843.50" x2="1053.00" y2="843.50" stroke-width="5" />
<path class="w" d="M942,780 L933,780 Q927.5,781 927.5,787 L927.5,801 Q927.5,807 933,807.5 L942,807.5" stroke-width="5"/>
<line x1="936.50" y1="782.00" x2="936.50" y2="806.00" stroke-width="2.4" />
<rect class="f" x="939.5" y="768.5" width="31" height="49.5" rx="3"/>
<rect x="947.5" y="779" width="12.5" height="11.6" style="fill:#fff;stroke:none" rx="1.5"/>
<rect x="947.5" y="797.5" width="12.5" height="13" style="fill:#fff;stroke:none" rx="1.5"/>
<rect class="f" x="965.8" y="757.5" width="10" height="67.5"/>
<line x1="971.30" y1="760.00" x2="971.30" y2="823.00" stroke-width="1.2" stroke="#fff"/>
<rect class="w" x="1051.5" y="771.5" width="17" height="43.5" rx="4" stroke-width="5"/>
<line x1="1054.50" y1="774.00" x2="1054.50" y2="812.00" stroke-width="2.4" />
<line x1="897.50" y1="793.30" x2="1098.00" y2="793.30" stroke-width="2.8" />
<path d="M941.00,816.00 L912.50,843.00 L912.50,856.00" stroke-width="3.0" />
<polygon points="942.50,814.50 938.11,822.91 933.94,818.59" fill="#000" stroke="none" />
<line x1="1050.00" y1="744.30" x2="1103.50" y2="744.30" stroke-width="3.0" />
<line x1="1050.00" y1="840.50" x2="1103.50" y2="840.50" stroke-width="3.0" />
<line x1="1102.50" y1="737.50" x2="1102.50" y2="843.00" stroke-width="3.0" />
<polygon points="1102.50,745.00 1105.60,756.00 1099.40,756.00" fill="#000" stroke="none" />
<polygon points="1102.50,840.00 1099.40,829.00 1105.60,829.00" fill="#000" stroke="none" />
<line x1="972.50" y1="824.00" x2="972.50" y2="958.00" stroke-width="3.0" />
<line x1="1041.00" y1="846.00" x2="1041.00" y2="958.00" stroke-width="3.0" />
<line x1="972.50" y1="956.00" x2="982.50" y2="956.00" stroke-width="3.0" />
<line x1="1022.50" y1="956.00" x2="1041.00" y2="956.00" stroke-width="3.0" />
<polygon points="973.00,956.00 982.00,953.60 982.00,958.40" fill="#000" stroke="none" />
<polygon points="1040.50,956.00 1031.50,958.40 1031.50,953.60" fill="#000" stroke="none" />
<line x1="996.00" y1="855.00" x2="996.00" y2="882.00" stroke-width="3.0" />
<line x1="1077.50" y1="879.00" x2="1077.50" y2="888.00" stroke-width="3.0" />
<line x1="996.00" y1="880.00" x2="1077.50" y2="880.00" stroke-width="3.0" />
<polygon points="996.50,880.00 1005.50,877.60 1005.50,882.40" fill="#000" stroke="none" />
<polygon points="1040.50,880.00 1031.50,882.40 1031.50,877.60" fill="#000" stroke="none" />
</g>
<g id="texts">
<text class="s" transform="translate(1420,321.5) rotate(-90)" font-size="26.16">E</text>
<text class="s" transform="translate(1420.60,482.81) rotate(-90)" font-size="32.63" textLength="133.11" lengthAdjust="spacingAndGlyphs" >8501024</text>
<text class="s" transform="translate(1377.50,707.02) rotate(-90)" font-size="25.44" textLength="308.03" lengthAdjust="spacingAndGlyphs" >COMPRESSOR 1 CYLINDER</text>
<text class="s" transform="translate(1417.00,783.43) rotate(-90)" font-size="23.26" textLength="251.86" lengthAdjust="spacingAndGlyphs" >WITH OIL EQUALISATION</text>
<text class="c" transform="translate(542.50,466.21) rotate(-90)" font-size="22.01" textLength="38.72" lengthAdjust="spacingAndGlyphs" >263</text>
<text class="c" transform="translate(560.00,466.04) rotate(-90)" font-size="18.98" textLength="82.09" lengthAdjust="spacingAndGlyphs" >[1<tspan class="z">0</tspan>.34 ]</text>
<text class="c" transform="translate(822.50,740.21) rotate(-90)" font-size="22.01" textLength="25.42" lengthAdjust="spacingAndGlyphs" >82</text>
<text class="c" transform="translate(840.00,740.04) rotate(-90)" font-size="18.98" textLength="68.59" lengthAdjust="spacingAndGlyphs" >[3.22 ]</text>
<text class="c" transform="translate(736.00,986.13) rotate(-90)" font-size="20.49" textLength="24.75" lengthAdjust="spacingAndGlyphs" >68</text>
<text class="c" transform="translate(755.00,986.17) rotate(-90)" font-size="21.25" textLength="68.34" lengthAdjust="spacingAndGlyphs" >[2.67 ]</text>
<text class="c" transform="translate(345.00,1127.25) rotate(-90)" font-size="22.77" textLength="192.50" lengthAdjust="spacingAndGlyphs" >SUCTION ROTALOCK</text>
<text class="c" transform="translate(364.00,955.67) rotate(-90)" font-size="21.25" textLength="16.34" lengthAdjust="spacingAndGlyphs" >1"</text>
<text class="c" transform="translate(608.00,1138.79) rotate(-90)" font-size="23.53" textLength="214.09" lengthAdjust="spacingAndGlyphs" >DISCHARGE ROTALOCK</text>
<text class="c" transform="translate(626.00,945.75) rotate(-90)" font-size="22.77" textLength="17.00" lengthAdjust="spacingAndGlyphs" >1"</text>
<text class="c" transform="translate(1017.50,703.38) rotate(-90)" font-size="15.94" textLength="291.75" lengthAdjust="spacingAndGlyphs" >GROMMET COMPRESSION NOT INCLUDED,</text>
<text class="c" transform="translate(1030.50,703.38) rotate(-90)" font-size="15.94" textLength="98.25" lengthAdjust="spacingAndGlyphs" >AROUND 1 MM</text>
<text class="c" transform="translate(1110.00,733.67) rotate(-90)" font-size="21.25" textLength="65.84" lengthAdjust="spacingAndGlyphs" >Ø31.75</text>
<text class="c" transform="translate(1129.00,718.67) rotate(-90)" font-size="21.25" textLength="69.84" lengthAdjust="spacingAndGlyphs" >[1.25 ]</text>
<text class="c" transform="translate(921.00,1001.25) rotate(-90)" font-size="22.77" textLength="142.50" lengthAdjust="spacingAndGlyphs" >BOLT H M8-4<tspan class="z">0</tspan></text>
<text class="c" transform="translate(1001.00,988.75) rotate(-90)" font-size="22.77" textLength="26.00" lengthAdjust="spacingAndGlyphs" >23</text>
<text class="c" transform="translate(1017.50,988.46) rotate(-90)" font-size="17.46" textLength="56.92" lengthAdjust="spacingAndGlyphs" >[.9<tspan class="z">0</tspan> ]</text>
<text class="c" transform="translate(1085.00,955.25) rotate(-90)" font-size="22.77" textLength="21.50" lengthAdjust="spacingAndGlyphs" >15</text>
<text class="c" transform="translate(1104.00,955.17) rotate(-90)" font-size="21.25" textLength="56.34" lengthAdjust="spacingAndGlyphs" >[.6<tspan class="z">0</tspan> ]</text>
<text class="c" transform="translate(527.00,1244.81) rotate(-90)" font-size="20.19" textLength="38.42" lengthAdjust="spacingAndGlyphs" >333</text>
<text class="c" transform="translate(545.00,1246.17) rotate(-90)" font-size="21.25" textLength="83.64" lengthAdjust="spacingAndGlyphs" >[13.12 ]</text>
<text class="c" transform="translate(249.50,1691.21) rotate(-90)" font-size="22.01" textLength="51.42" lengthAdjust="spacingAndGlyphs" >Ø224</text>
<text class="c" transform="translate(249.50,1627.21) rotate(-90)" font-size="22.01" textLength="69.42" lengthAdjust="spacingAndGlyphs" >[8.83 ]</text>
<text class="c" transform="translate(612.50,1432.25) rotate(-90)" font-size="22.77" textLength="181.00" lengthAdjust="spacingAndGlyphs" >OIL EQUALISATION</text>
<text class="c" transform="translate(629.00,1432.17) rotate(-90)" font-size="21.25" textLength="43.34" lengthAdjust="spacingAndGlyphs" >3/8"</text>
<text class="c" transform="translate(722.50,1407.25) rotate(-90)" font-size="22.77" textLength="26.00" lengthAdjust="spacingAndGlyphs" >68</text>
<text class="c" transform="translate(740.50,1407.21) rotate(-90)" font-size="22.01" textLength="69.42" lengthAdjust="spacingAndGlyphs" >[2.68 ]</text>
<text class="c" transform="translate(829.00,1681.25) rotate(-90)" font-size="22.77" textLength="240.00" lengthAdjust="spacingAndGlyphs" >PTC CRANKCASE HEATER</text>
<text class="c" transform="translate(432.50,1986.25) rotate(-90)" font-size="22.77" textLength="95.00" lengthAdjust="spacingAndGlyphs" >SCHRADER</text>
<text class="c" transform="translate(452.50,1938.75) rotate(-90)" font-size="22.77" textLength="35.00" lengthAdjust="spacingAndGlyphs" >1/4"</text>
<text class="c" transform="translate(672.50,1967.75) rotate(-90)" font-size="22.77" textLength="22.50" lengthAdjust="spacingAndGlyphs" >98</text>
<text class="c" transform="translate(691.00,1968.63) rotate(-90)" font-size="20.49" textLength="69.75" lengthAdjust="spacingAndGlyphs" >[3.85 ]</text>
<text class="c" transform="translate(803.00,2002.17) rotate(-90)" font-size="21.25" textLength="23.84" lengthAdjust="spacingAndGlyphs" >25</text>
<text class="c" transform="translate(821.00,2002.13) rotate(-90)" font-size="20.49" textLength="55.75" lengthAdjust="spacingAndGlyphs" >[.98 ]</text>
<text class="c" transform="translate(878.00,1601.94) rotate(-90)" font-size="22.47" textLength="30.17" lengthAdjust="spacingAndGlyphs" >118</text>
<text class="c" transform="translate(878.00,1553.04) rotate(-90)" font-size="22.47" textLength="69.57" lengthAdjust="spacingAndGlyphs" >[4.65 ]</text>
<text class="c" transform="translate(878.00,1720.24) rotate(-90)" font-size="22.47" textLength="70.97" lengthAdjust="spacingAndGlyphs" >[4.29 ]</text>
<text class="c" transform="translate(878.00,1768.24) rotate(-90)" font-size="22.47" textLength="30.47" lengthAdjust="spacingAndGlyphs" >1<tspan class="z">0</tspan>9</text>
<text class="c" transform="translate(964.00,1388.67) rotate(-90)" font-size="21.25" textLength="139.84" lengthAdjust="spacingAndGlyphs" >THREADED OIL</text>
<text class="c" transform="translate(981.50,1388.63) rotate(-90)" font-size="20.49" textLength="128.75" lengthAdjust="spacingAndGlyphs" >SIGHT GLASS</text>
<text class="c" transform="translate(1045.00,1350.25) rotate(-90)" font-size="22.77" textLength="27.50" lengthAdjust="spacingAndGlyphs" >39</text>
<text class="c" transform="translate(1061.80,1350.09) rotate(-90)" font-size="19.74" textLength="70.37" lengthAdjust="spacingAndGlyphs" >[1.52 ]</text>
<text class="c" transform="translate(1210.00,1402.09) rotate(-90)" font-size="19.74" textLength="31.87" lengthAdjust="spacingAndGlyphs" >123</text>
<text class="c" transform="translate(1229.00,1402.25) rotate(-90)" font-size="22.77" textLength="70.50" lengthAdjust="spacingAndGlyphs" >[4.84 ]</text>
<text class="c" transform="translate(1187.50,1597.13) rotate(-90)" font-size="20.49" textLength="29.25" lengthAdjust="spacingAndGlyphs" >141</text>
<text class="c" transform="translate(1206.00,1597.13) rotate(-90)" font-size="20.49" textLength="69.25" lengthAdjust="spacingAndGlyphs" >[5.55 ]</text>
<text class="c" transform="translate(1377.50,1745.25) rotate(-90)" font-size="22.77" textLength="25.50" lengthAdjust="spacingAndGlyphs" >17</text>
<text class="c" transform="translate(1377.50,1710.25) rotate(-90)" font-size="22.77" textLength="57.50" lengthAdjust="spacingAndGlyphs" >[.67 ]</text>
<text class="c" transform="translate(1404.00,1822.25) rotate(-90)" font-size="22.77" textLength="31.00" lengthAdjust="spacingAndGlyphs" >159</text>
<text class="c" transform="translate(1404.00,1775.25) rotate(-90)" font-size="22.77" textLength="70.50" lengthAdjust="spacingAndGlyphs" >[6.26 ]</text>
<text class="c" transform="translate(942.50,1903.63) rotate(-90)" font-size="20.49" textLength="32.25" lengthAdjust="spacingAndGlyphs" >142</text>
<text class="c" transform="translate(960.00,1903.67) rotate(-90)" font-size="21.25" textLength="69.84" lengthAdjust="spacingAndGlyphs" >[5.6<tspan class="z">0</tspan> ]</text>
<text class="c" transform="translate(979.00,1903.67) rotate(-90)" font-size="21.25" textLength="32.34" lengthAdjust="spacingAndGlyphs" >142</text>
<text class="c" transform="translate(997.50,1903.75) rotate(-90)" font-size="22.77" textLength="70.00" lengthAdjust="spacingAndGlyphs" >[5.59 ]</text>
<text class="c" transform="translate(942.50,1998.63) rotate(-90)" font-size="20.49" textLength="78.75" lengthAdjust="spacingAndGlyphs" >SUCTION</text>
<text class="c" transform="translate(979.00,2025.29) rotate(-90)" font-size="23.53" textLength="105.59" lengthAdjust="spacingAndGlyphs" >DISCHARGE</text>
<text class="c" transform="translate(1092.50,2004.21) rotate(-90)" font-size="22.01" textLength="26.82" lengthAdjust="spacingAndGlyphs" >68</text>
<text class="c" transform="translate(1110.00,2004.09) rotate(-90)" font-size="19.74" textLength="70.47" lengthAdjust="spacingAndGlyphs" >[2.68 ]</text>
<text class="c l" transform="translate(948.00,635.20) rotate(-90)" font-size="27.33" textLength="161.71" lengthAdjust="spacingAndGlyphs" >SILENTBLOCK</text>
<text class="c m" transform="translate(1200.00,1255.20) rotate(-90)" font-size="27.33" textLength="166.71" lengthAdjust="spacingAndGlyphs" >COMPRESSORS</text>
<text class="c m" transform="translate(1245.00,1255.29) rotate(-90)" font-size="28.84" textLength="220.87" lengthAdjust="spacingAndGlyphs" >MT/MTZ 18-3/4/6</text>
<text class="c m" transform="translate(1267.50,1255.16) rotate(-90)" font-size="26.57" textLength="286.62" lengthAdjust="spacingAndGlyphs" >MT/MTZ 22-3/4/6/7/9</text>
<text class="c m" transform="translate(1291.00,1255.24) rotate(-90)" font-size="28.09" textLength="286.79" lengthAdjust="spacingAndGlyphs" >MT/MTZ 28-3/4/6/7/9</text>
<text class="c" transform="translate(906.5,1589) rotate(-98)" font-size="22" textLength="32" lengthAdjust="spacingAndGlyphs">37°</text>
<text class="c" transform="translate(918.5,1720) rotate(-83)" font-size="21.5" textLength="29" lengthAdjust="spacingAndGlyphs">35°</text>
<text class="c" transform="translate(1421,1602) rotate(-104)" font-size="20" textLength="26" lengthAdjust="spacingAndGlyphs">17°</text>
</g>
</svg>
</body></html>
